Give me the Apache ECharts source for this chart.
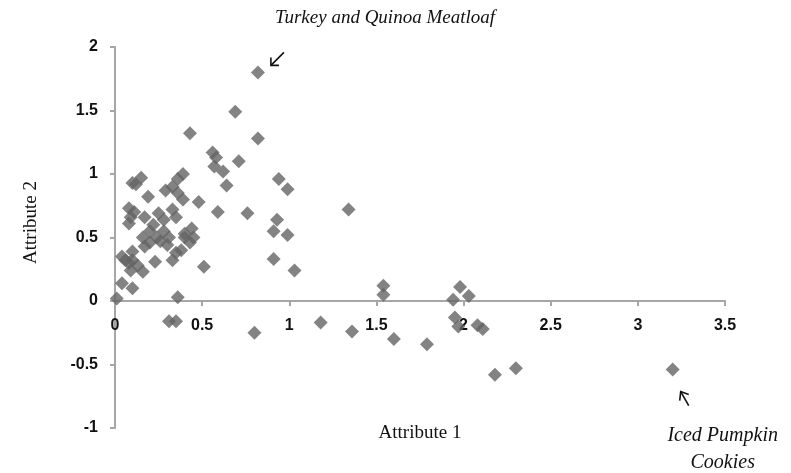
<!DOCTYPE html>
<html>
<head>
<meta charset="utf-8">
<script src="https://cdn.jsdelivr.net/npm/echarts@6/dist/echarts.min.js"></script>
<style>html,body{margin:0;padding:0;background:#fff}#c{width:791px;height:473px}</style>
</head>
<body>
<div id="c"></div>
<script>
// Attribute 1 values
const attr1 = [0.82,0.69,0.43,0.82,0.56,0.58,0.57,0.62,0.71,0.64,0.94,0.99,0.10,0.15,0.19,0.29,0.33,0.36,0.39,0.36,
  0.48,0.59,0.76,0.08,0.09,0.17,0.08,0.25,0.28,0.33,0.35,0.16,0.20,0.24,0.31,0.17,0.40,0.44,0.43,0.38,
  0.35,0.04,0.10,0.08,0.09,0.16,0.23,0.33,0.51,0.93,0.91,0.99,0.91,1.03,0.04,0.10,0.01,0.36,0.31,0.35,
  0.80,1.18,1.36,1.60,1.79,1.34,1.54,1.54,1.98,1.94,2.03,1.95,1.97,2.08,2.11,2.18,2.30,3.20,
  0.12,0.20,0.26,0.06,0.13,0.28,0.45,0.11,0.22,0.30,0.39,0.40,0.10];
// Attribute 2 values
const attr2 = [1.80,1.49,1.32,1.28,1.17,1.13,1.06,1.02,1.10,0.91,0.96,0.88,0.93,0.97,0.82,0.87,0.90,0.96,1.00,0.85,
  0.78,0.70,0.69,0.73,0.66,0.66,0.61,0.69,0.64,0.72,0.66,0.50,0.46,0.50,0.50,0.43,0.53,0.57,0.46,0.40,
  0.38,0.35,0.39,0.30,0.24,0.23,0.31,0.32,0.27,0.64,0.55,0.52,0.33,0.24,0.14,0.10,0.02,0.03,-0.16,-0.16,
  -0.25,-0.17,-0.24,-0.30,-0.34,0.72,0.12,0.05,0.11,0.01,0.04,-0.13,-0.20,-0.19,-0.22,-0.58,-0.53,-0.54,
  0.92,0.55,0.47,0.32,0.28,0.55,0.50,0.70,0.60,0.44,0.80,0.50,0.32];
const xTicks = {min: 0, max: 3.5, interval: 0.5};
const yTicks = {min: -1, max: 2, interval: 0.5};
const annotations = [
  {label: 'Turkey and Quinoa Meatloaf', x: 0.82, y: 1.80},
  {label: 'Iced Pumpkin\nCookies', x: 3.20, y: -0.54}
];

const points = attr1.map((v, i) => [v, attr2[i]]);
const chart = echarts.init(document.getElementById('c'));
const axisColor = '#a6a6a6';
const labelStyle = {color: '#111', fontSize: 16, fontWeight: 'bold', fontFamily: 'Liberation Sans'};
chart.setOption({
  animation: false,
  grid: {left: 115, right: 66, top: 47, bottom: 45, outerBoundsMode: 'none', containLabel: false},
  xAxis: {
    type: 'value', position: 'bottom', min: xTicks.min, max: xTicks.max, interval: xTicks.interval,
    axisLine: {onZero: false, lineStyle: {color: axisColor, width: 2}},
    axisTick: {show: true, length: 5, lineStyle: {color: axisColor, width: 2}},
    axisLabel: Object.assign({margin: 17}, labelStyle),
    splitLine: {show: false}
  },
  yAxis: {
    type: 'value', min: yTicks.min, max: yTicks.max, interval: yTicks.interval,
    axisLine: {show: true, lineStyle: {color: axisColor, width: 2}},
    axisTick: {show: true, length: 5, lineStyle: {color: axisColor, width: 2}},
    axisLabel: Object.assign({margin: 17}, labelStyle),
    splitLine: {show: false}
  },
  series: [{
    type: 'scatter', data: points, symbol: 'diamond', symbolSize: 14,
    itemStyle: {color: '#646464'}
  }]
});

// move the x axis (line, ticks and labels) up to y = 0
const zeroPix = chart.convertToPixel({gridIndex: 0}, [0, 0]);
const bottomPix = chart.convertToPixel({gridIndex: 0}, [0, yTicks.min]);
chart.setOption({xAxis: {offset: -(bottomPix[1] - zeroPix[1])}});

const p1 = chart.convertToPixel({gridIndex: 0}, [annotations[0].x, annotations[0].y]);
const p2 = chart.convertToPixel({gridIndex: 0}, [annotations[1].x, annotations[1].y]);
const yMid = chart.convertToPixel({gridIndex: 0}, [0, 0.5]);
const xMid = chart.convertToPixel({gridIndex: 0}, [1.75, -1]);
chart.setOption({
  graphic: [
    {type: 'text', x: 31, y: yMid[1] - 15, rotation: Math.PI / 2,
      style: {text: 'Attribute 2', font: '19px "Liberation Serif"', fill: '#111', align: 'center', verticalAlign: 'middle'}},
    {type: 'text', x: xMid[0], y: xMid[1] + 5,
      style: {text: 'Attribute 1', font: '19px "Liberation Serif"', fill: '#111', align: 'center', verticalAlign: 'middle'}},
    {type: 'text', x: p1[0] + 17, y: p1[1] - 54,
      style: {text: annotations[0].label, font: 'italic 19px "Liberation Serif"', fill: '#111', align: 'left', verticalAlign: 'middle'}},
    {type: 'polyline', shape: {points: [[p1[0] + 26, p1[1] - 20], [p1[0] + 13, p1[1] - 7]]}, style: {stroke: '#111', lineWidth: 1.6}},
    {type: 'polyline', shape: {points: [[p1[0] + 13, p1[1] - 15], [p1[0] + 13, p1[1] - 7], [p1[0] + 21, p1[1] - 7]]}, style: {stroke: '#111', lineWidth: 1.6, fill: null}},
    {type: 'polyline', shape: {points: [[p2[0] + 16, p2[1] + 36], [p2[0] + 8, p2[1] + 22]]}, style: {stroke: '#111', lineWidth: 1.6}},
    {type: 'polyline', shape: {points: [[p2[0] + 7, p2[1] + 31], [p2[0] + 8, p2[1] + 22], [p2[0] + 16, p2[1] + 25]]}, style: {stroke: '#111', lineWidth: 1.6, fill: null}},
    {type: 'text', x: p2[0] + 50, y: p2[1] + 80,
      style: {text: annotations[1].label, font: 'italic 20px "Liberation Serif"', fill: '#111', align: 'center', verticalAlign: 'middle', lineHeight: 27}}
  ]
});
</script>
</body>
</html>
